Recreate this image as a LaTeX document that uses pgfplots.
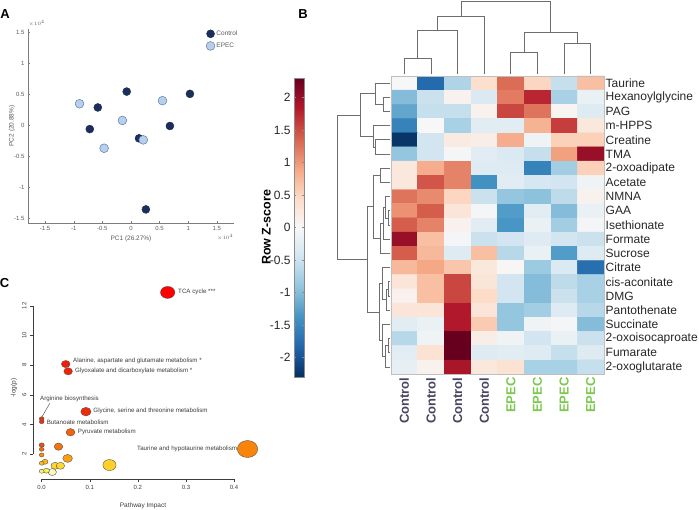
\documentclass[border=0pt]{standalone}
\usepackage{pgfplots}
\pgfplotsset{compat=1.18}
\usepackage{fontspec}
\setmainfont{Liberation Sans}
\definecolor{navy}{RGB}{27,46,92}
\definecolor{lblue}{RGB}{184,207,236}
\definecolor{lblueedge}{RGB}{95,125,175}
\definecolor{axgray}{RGB}{125,125,125}
\definecolor{txgray}{RGB}{90,90,90}
\definecolor{ctrlcol}{RGB}{72,70,95}
\definecolor{epeccol}{RGB}{125,200,80}
\definecolor{dendro}{RGB}{110,110,110}
\definecolor{cgray}{RGB}{60,60,60}
\pgfplotsset{
  colormap={heat}{rgb255(0cm)=(255,0,0) rgb255(1cm)=(235,55,10) rgb255(2cm)=(250,140,10) rgb255(3cm)=(255,200,30) rgb255(4cm)=(255,240,80) rgb255(5cm)=(250,248,225)},
  colormap={rdbu}{rgb255=(5,48,97) rgb255=(33,102,172) rgb255=(67,147,195) rgb255=(146,197,222) rgb255=(209,229,240) rgb255=(247,247,247) rgb255=(253,219,199) rgb255=(244,165,130) rgb255=(214,96,77) rgb255=(178,24,43) rgb255=(103,0,31)},
  every axis/.append style={/pgf/number format/assume math mode=true},
  dend/.style={draw=dendro, line width=0.8pt, mark=none},
}
\begin{document}
\begin{tikzpicture}
\path[use as bounding box] (0pt,0pt) rectangle (699pt,510pt);

% ---------------- Panel A ----------------
\begin{axis}[
  scale only axis, width=206pt, height=194pt, at={(28pt,287pt)}, anchor=south west,
  xmin=-1.8, xmax=1.8, ymin=-1.58, ymax=1.56,
  axis x line=bottom, axis y line=left, axis line style={-, draw=axgray, line width=0.5pt},
  xtick={-1.5,-1,-0.5,0,0.5,1,1.5}, ytick={-1.5,-1,-0.5,0,0.5,1,1.5},
  tick align=inside, major tick length=2pt, tick style={draw=axgray, line width=0.4pt},
  ticklabel style={font=\fontsize{6}{7}\selectfont, text=txgray},
  xlabel={PC1 (26.27\%)}, ylabel={PC2 (20.88\%)},
  label style={font=\fontsize{6.5}{7}\selectfont, text=txgray},
  xlabel style={at={(axis description cs:0.5,-0.0825)}, anchor=center},
  ylabel style={at={(axis description cs:-0.078,0.5)}, anchor=center},
  legend style={at={(axis cs:1.31,1.56)}, anchor=north west, draw=none, fill=none,
    font=\fontsize{6.5}{7}\selectfont, text=txgray, row sep=3pt, inner sep=0pt,
    nodes={inner sep=1.5pt}},
  legend image code/.code={\draw[mark repeat=2,mark phase=2,#1] plot coordinates {(0cm,0cm)(0.17cm,0cm)(0.34cm,0cm)};},
  legend cell align=left, clip=false,
]
\addplot[only marks, mark=*, mark size=4pt, mark options={fill=navy, draw=navy!85!black, line width=0.4pt}]
  coordinates {(-0.075,0.547) (-0.58,0.29) (-0.72,-0.06) (1.03,0.51) (0.68,-0.01) (0.14,-0.21) (0.26,-1.36)};
\addlegendentry{Control}
\addplot[only marks, mark=*, mark size=4.4pt, mark options={fill=lblue, draw=lblueedge, line width=0.5pt}]
  coordinates {(-0.90,0.35) (0.55,0.40) (-0.15,0.08) (-0.47,-0.37) (0.215,-0.235)};
\addlegendentry{EPEC}
\node[font=\fontsize{4.5}{5}\selectfont, text=txgray, anchor=south west, inner sep=0.5pt] at (axis description cs:0,1.01) {$\times10^4$};
\node[font=\fontsize{4.5}{5}\selectfont, text=txgray, anchor=north east, inner sep=0.5pt] at (axis description cs:1,-0.055) {$\times10^4$};
\end{axis}

% ---------------- Panel C ----------------
\begin{axis}[
  scale only axis, width=222.7pt, height=194pt, at={(33pt,31pt)}, anchor=south west,
  xmin=-0.018, xmax=0.445, ymin=0.32, ymax=13.4,
  axis x line*=bottom, axis y line*=left, axis line style={draw=none},
  xtick={0,0.1,0.2,0.3,0.4}, ytick={2,4,6,8,10,12},
  xticklabel style={/pgf/number format/.cd, fixed, fixed zerofill, precision=1},
  yticklabel style={rotate=90, anchor=south},
  tick align=outside, major tick length=3pt, tick style={draw=cgray, line width=0.4pt},
  ticklabel style={font=\fontsize{6}{7}\selectfont, text=cgray},
  xlabel={Pathway Impact}, ylabel={-log(p)},
  label style={font=\fontsize{6.5}{7}\selectfont, text=cgray},
  xlabel style={at={(axis description cs:0.494,-0.139)}, anchor=center},
  ylabel style={at={(axis description cs:-0.085,0.469)}, anchor=center},
  colormap name=heat, point meta min=0, point meta max=5, clip=false,
]
\draw[cgray, line width=0.4pt] (axis cs:0,0.32) -- (axis cs:0.4,0.32);
\draw[cgray, line width=0.4pt] (axis cs:-0.018,2) -- (axis cs:-0.018,12);
\addplot[scatter, only marks, mark=*, scatter src=explicit,
  scatter/use mapped color={draw=black!70, fill=mapped color},
  visualization depends on={\thisrow{r} \as \rr},
  scatter/@pre marker code/.append style={/tikz/mark size=\rr},
  mark options={xscale=1.2, line width=0.35pt}]
  table[x=x, y=y, meta=c] {
x y r c
0.428 2.34 8.5 1.9
0.262 12.9 6.0 0.0
0.141 1.26 5.5 3.2
0.092 4.86 4.3 0.8
0.050 8.07 3.6 0.55
0.055 7.58 3.6 0.6
0.060 3.47 3.7 1.5
0.035 2.50 3.6 1.7
0.054 1.71 4.0 2.3
0.028 1.21 3.5 3.3
0.039 1.21 3.5 3.4
0.022 0.79 3.5 4.8
0.010 0.88 2.5 4.0
0.007 1.48 2.5 2.7
0.000 2.61 2.2 1.3
0.000 2.32 2.0 1.6
0.000 1.94 2.0 2.0
0.000 1.38 2.0 2.8
0.000 0.84 2.0 4.2
0.000 4.38 2.0 0.9
0.000 4.18 2.0 0.95
};
\begin{scope}[every node/.style={font=\fontsize{6.2}{7}\selectfont, text=cgray, inner sep=0pt}]
\node[anchor=west] at (axis cs:0.2835,12.93) {TCA cycle ***};
\node[anchor=west] at (axis cs:0.0651,8.29) {Alanine, aspartate and glutamate metabolism *};
\node[anchor=west] at (axis cs:0.0693,7.62) {Glyoxalate and dicarboxylate metabolism *};
\node[anchor=west] at (axis cs:-0.0035,5.69) {Arginine biosynthesis};
\node[anchor=west] at (axis cs:0.0104,4.11) {Butanoate metabolism};
\node[anchor=west] at (axis cs:0.1073,4.88) {Glycine, serine and threonine metabolism};
\node[anchor=west] at (axis cs:0.0749,3.47) {Pyruvate metabolism};
\node[anchor=east] at (axis cs:0.4068,2.32) {Taurine and hypotaurine metabolism};
\end{scope}
\draw[cgray, line width=0.4pt] (axis cs:0.0173,5.45) -- (axis cs:0.0005,4.5);
\end{axis}

% ---------------- Panel B heatmap ----------------
\begin{axis}[
  scale only axis, width=213pt, height=298pt, at={(391pt,136pt)}, anchor=south west,
  xmin=-0.5, xmax=7.5, ymin=-0.5, ymax=20.5, y dir=reverse, enlargelimits=false,
  axis on top, axis line style={draw=black!25, line width=0.4pt},
  colormap name=rdbu, point meta min=-2.3, point meta max=2.3,
  xtick={0,...,7},
  xticklabels={\textcolor{ctrlcol}{Control},\textcolor{ctrlcol}{Control},\textcolor{ctrlcol}{Control},\textcolor{ctrlcol}{Control},\textcolor{epeccol}{EPEC},\textcolor{epeccol}{EPEC},\textcolor{epeccol}{EPEC},\textcolor{epeccol}{EPEC}},
  ytick={0,...,20},
  yticklabels={Taurine,Hexanoylglycine,PAG,m-HPPS,Creatine,TMA,2-oxoadipate,Acetate,NMNA,GAA,Isethionate,Formate,Sucrose,Citrate,cis-aconitate,DMG,Pantothenate,Succinate,2-oxoisocaproate,Fumarate,2-oxoglutarate},
  yticklabel pos=right, major tick length=0pt,
  xticklabel style={rotate=90, anchor=east, font=\bfseries\fontsize{13}{13}\selectfont},
  yticklabel style={anchor=west, font=\fontsize{12}{13}\selectfont, inner sep=1.5pt, text=black!85},
  colorbar left,
  colorbar style={
    at={(parent axis.south west)}, anchor=south east, xshift=-78.7pt, yshift=-3pt,
    width=9.6pt, height=299pt,
    ytick={-2,-1.5,-1,-0.5,0,0.5,1,1.5,2},
    yticklabel pos=left,
    yticklabel style={font=\fontsize{12}{13}\selectfont, text=black!85},
    ylabel={Row Z-score},
    ylabel style={font=\bfseries\fontsize{12.5}{13}\selectfont, at={(axis description cs:-2.9,0.5)}, anchor=center},
    axis line style={draw=black!45}, major tick length=2pt, tick style={draw=black!45},
  },
]
\addplot[matrix plot*, mesh/cols=8, mesh/rows=21, point meta=explicit] table[row sep=\\, meta=c] {
x y c\\
0 0 0.0\\ 1 0 -1.8\\ 2 0 -0.7\\ 3 0 0.4\\ 4 0 1.3\\ 5 0 0.5\\ 6 0 -0.55\\ 7 0 0.7\\
0 1 -1.0\\ 1 1 -0.5\\ 2 1 0.1\\ 3 1 -0.35\\ 4 1 1.2\\ 5 1 1.75\\ 6 1 -0.75\\ 7 1 -0.15\\
0 2 -1.2\\ 1 2 -0.55\\ 2 2 -0.55\\ 3 2 0.1\\ 4 2 1.55\\ 5 2 1.25\\ 6 2 0.05\\ 7 2 -0.3\\
0 3 -1.55\\ 1 3 0.0\\ 2 3 -0.75\\ 3 3 -0.25\\ 4 3 -0.25\\ 5 3 0.8\\ 6 3 1.6\\ 7 3 0.25\\
0 4 -2.25\\ 1 4 -0.45\\ 2 4 0.2\\ 3 4 0.15\\ 4 4 0.85\\ 5 4 -0.1\\ 6 4 0.55\\ 7 4 0.55\\
0 5 -0.9\\ 1 5 -0.45\\ 2 5 -0.05\\ 3 5 -0.25\\ 4 5 -0.35\\ 5 5 -0.55\\ 6 5 0.95\\ 7 5 2.0\\
0 6 0.25\\ 1 6 0.85\\ 2 6 1.15\\ 3 6 -0.3\\ 4 6 -0.3\\ 5 6 -1.55\\ 6 6 -0.8\\ 7 6 0.55\\
0 7 0.25\\ 1 7 1.45\\ 2 7 1.15\\ 3 7 -1.4\\ 4 7 -0.25\\ 5 7 -0.4\\ 6 7 -0.45\\ 7 7 -0.1\\
0 8 1.25\\ 1 8 1.1\\ 2 8 0.5\\ 3 8 -0.5\\ 4 8 -0.9\\ 5 8 -0.95\\ 6 8 -0.6\\ 7 8 0.1\\
0 9 1.05\\ 1 9 1.4\\ 2 9 0.3\\ 3 9 -0.05\\ 4 9 -1.3\\ 5 9 -0.25\\ 6 9 -1.0\\ 7 9 -0.15\\
0 10 1.4\\ 1 10 1.15\\ 2 10 0.1\\ 3 10 -0.25\\ 4 10 -1.35\\ 5 10 -0.15\\ 6 10 -0.8\\ 7 10 -0.05\\
0 11 2.0\\ 1 11 0.7\\ 2 11 -0.05\\ 3 11 -0.5\\ 4 11 -0.45\\ 5 11 -0.3\\ 6 11 -0.45\\ 7 11 -0.5\\
0 12 1.4\\ 1 12 0.75\\ 2 12 -0.3\\ 3 12 0.7\\ 4 12 -0.65\\ 5 12 -0.15\\ 6 12 -1.3\\ 7 12 -0.3\\
0 13 0.75\\ 1 13 0.9\\ 2 13 0.65\\ 3 13 0.25\\ 4 13 0.02\\ 5 13 -0.85\\ 6 13 -0.35\\ 7 13 -1.75\\
0 14 0.3\\ 1 14 0.7\\ 2 14 1.55\\ 3 14 0.3\\ 4 14 -0.45\\ 5 14 -1.0\\ 6 14 -0.6\\ 7 14 -0.75\\
0 15 0.1\\ 1 15 0.7\\ 2 15 1.55\\ 3 15 0.45\\ 4 15 -0.45\\ 5 15 -1.0\\ 6 15 -0.5\\ 7 15 -0.75\\
0 16 0.3\\ 1 16 0.3\\ 2 16 1.85\\ 3 16 0.3\\ 4 16 -0.9\\ 5 16 -0.8\\ 6 16 -0.3\\ 7 16 -0.65\\
0 17 -0.25\\ 1 17 -0.15\\ 2 17 1.85\\ 3 17 0.6\\ 4 17 -0.9\\ 5 17 -0.1\\ 6 17 -0.05\\ 7 17 -1.0\\
0 18 -0.65\\ 1 18 -0.1\\ 2 18 2.3\\ 3 18 0.15\\ 4 18 -0.1\\ 5 18 -0.45\\ 6 18 -0.15\\ 7 18 -0.5\\
0 19 -0.25\\ 1 19 0.35\\ 2 19 2.3\\ 3 19 -0.3\\ 4 19 -0.25\\ 5 19 -0.3\\ 6 19 -0.55\\ 7 19 -0.3\\
0 20 -0.2\\ 1 20 0.1\\ 2 20 1.9\\ 3 20 0.25\\ 4 20 0.35\\ 5 20 -0.75\\ 6 20 -0.75\\ 7 20 -0.55\\
};
\end{axis}

% ---------------- Dendrograms (pixel coordinates) ----------------
\begin{axis}[
  scale only axis, width=699pt, height=510pt, at={(0pt,0pt)}, anchor=south west,
  xmin=0, xmax=699, ymin=0, ymax=510, y dir=reverse, hide axis, clip=false,
]
% top (columns)
\addplot[dend] coordinates {(404.3,74) (404.3,58.3) (430.9,58.3) (430.9,74)};
\addplot[dend] coordinates {(417.6,58.3) (417.6,30) (457.5,30) (457.5,74)};
\addplot[dend] coordinates {(437.6,30) (437.6,16) (484.1,16) (484.1,74)};
\addplot[dend] coordinates {(510.8,74) (510.8,52.7) (537.4,52.7) (537.4,74)};
\addplot[dend] coordinates {(564,74) (564,43.3) (590.6,43.3) (590.6,74)};
\addplot[dend] coordinates {(524.1,52.7) (524.1,32.3) (577.3,32.3) (577.3,43.3)};
\addplot[dend] coordinates {(460.9,16) (460.9,1) (550.7,1) (550.7,32.3)};
% left (rows)
\addplot[dend] coordinates {(390,97.3) (383.3,97.3) (383.3,111.5) (390,111.5)};
\addplot[dend] coordinates {(390,83.1) (375,83.1) (375,104.4) (383.3,104.4)};
\addplot[dend] coordinates {(390,139.9) (375,139.9) (375,154.1) (390,154.1)};
\addplot[dend] coordinates {(390,125.7) (373.3,125.7) (373.3,147) (375,147)};
\addplot[dend] coordinates {(375,93.75) (360,93.75) (360,136.35) (373.3,136.35)};
\addplot[dend] coordinates {(390,168.3) (380.7,168.3) (380.7,182.5) (390,182.5)};
\addplot[dend] coordinates {(390,210.9) (388,210.9) (388,225.1) (390,225.1)};
\addplot[dend] coordinates {(390,196.7) (385.5,196.7) (385.5,218) (388,218)};
\addplot[dend] coordinates {(385.5,207.35) (383.5,207.35) (383.5,239.3) (390,239.3)};
\addplot[dend] coordinates {(383.5,223.3) (380,223.3) (380,253.5) (390,253.5)};
\addplot[dend] coordinates {(380.7,175.4) (373.3,175.4) (373.3,238.4) (380,238.4)};
\addplot[dend] coordinates {(390,281.9) (388.3,281.9) (388.3,296.1) (390,296.1)};
\addplot[dend] coordinates {(388.3,289) (386.7,289) (386.7,310.3) (390,310.3)};
\addplot[dend] coordinates {(390,267.7) (382.7,267.7) (382.7,299.65) (386.7,299.65)};
\addplot[dend] coordinates {(390,338.7) (388,338.7) (388,352.9) (390,352.9)};
\addplot[dend] coordinates {(388,345.8) (385.5,345.8) (385.5,367.1) (390,367.1)};
\addplot[dend] coordinates {(390,324.5) (382.7,324.5) (382.7,356.45) (385.5,356.45)};
\addplot[dend] coordinates {(382.7,283.7) (379.3,283.7) (379.3,340.5) (382.7,340.5)};
\addplot[dend] coordinates {(373.3,206.9) (367.3,206.9) (367.3,312.1) (379.3,312.1)};
\addplot[dend] coordinates {(360,115.05) (337.3,115.05) (337.3,259.5) (367.3,259.5)};
\end{axis}

% panel letters
\node[font=\bfseries\fontsize{13}{13}\selectfont] at (5pt,496pt) {A};
\node[font=\bfseries\fontsize{13}{13}\selectfont] at (303pt,496pt) {B};
\node[font=\bfseries\fontsize{13}{13}\selectfont] at (4.5pt,227pt) {C};
\end{tikzpicture}
\end{document}
